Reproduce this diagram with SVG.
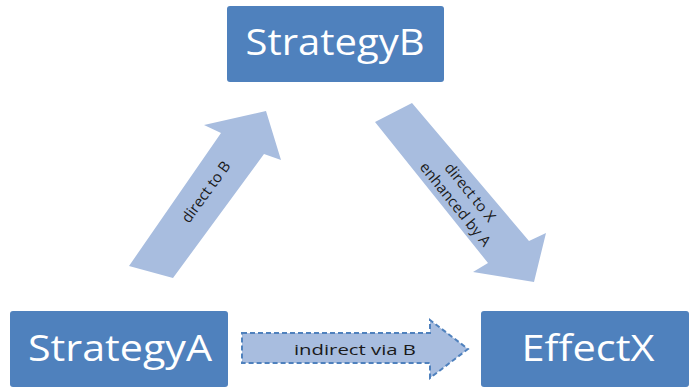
<svg xmlns="http://www.w3.org/2000/svg" width="690" height="388" viewBox="0 0 690 388">
<style>
.box{fill:#4f81bd;}
.btxt{fill:#ffffff;font-family:"Open Sans","Liberation Sans",sans-serif;font-size:36px;text-anchor:middle;}
.arr{fill:#a8bddf;}
.atxt{fill:#1a1a1a;font-family:"Open Sans","Liberation Sans",sans-serif;font-size:15px;text-anchor:middle;}
.dash{fill:#a8bddf;stroke:#4f81bd;stroke-width:2;stroke-dasharray:5 3;}
</style>
<rect width="690" height="388" fill="#ffffff"/>
<g id="connectors">
<g id="edge-a-b">
<polygon class="arr" points="129,266 221,133 204,125 266,111 281,160 264,154 173,278"/>
<text class="atxt" transform="translate(206,192) rotate(-54)" y="5">direct to B</text>
</g>
<g id="edge-b-x">
<polygon class="arr" points="412,103 529,241 546,233 534,282 473,272 488,263 375,122"/>
<g transform="translate(463,198) rotate(51)">
<text class="atxt" y="-4">direct to X</text>
<text class="atxt" y="15">enhanced by A</text>
</g>
</g>
<g id="edge-a-x">
<polygon class="dash" points="242,333 430,333 430,320 468,349 430,378 430,363 242,363"/>
<text class="atxt" x="355" y="355" textLength="122" lengthAdjust="spacingAndGlyphs">indirect via B</text>
</g>
</g>
<g id="node-strategyB">
<rect class="box" x="227" y="6" width="217" height="76" rx="3"/>
<text class="btxt" x="335" y="55" textLength="179" lengthAdjust="spacingAndGlyphs">StrategyB</text>
</g>
<g id="node-strategyA">
<rect class="box" x="10" y="311" width="218" height="76" rx="3"/>
<text class="btxt" x="120" y="361" textLength="184" lengthAdjust="spacingAndGlyphs">StrategyA</text>
</g>
<g id="node-effectX">
<rect class="box" x="481" y="311" width="208" height="76" rx="3"/>
<text class="btxt" x="588" y="361" textLength="133" lengthAdjust="spacingAndGlyphs">EffectX</text>
</g>
</svg>
